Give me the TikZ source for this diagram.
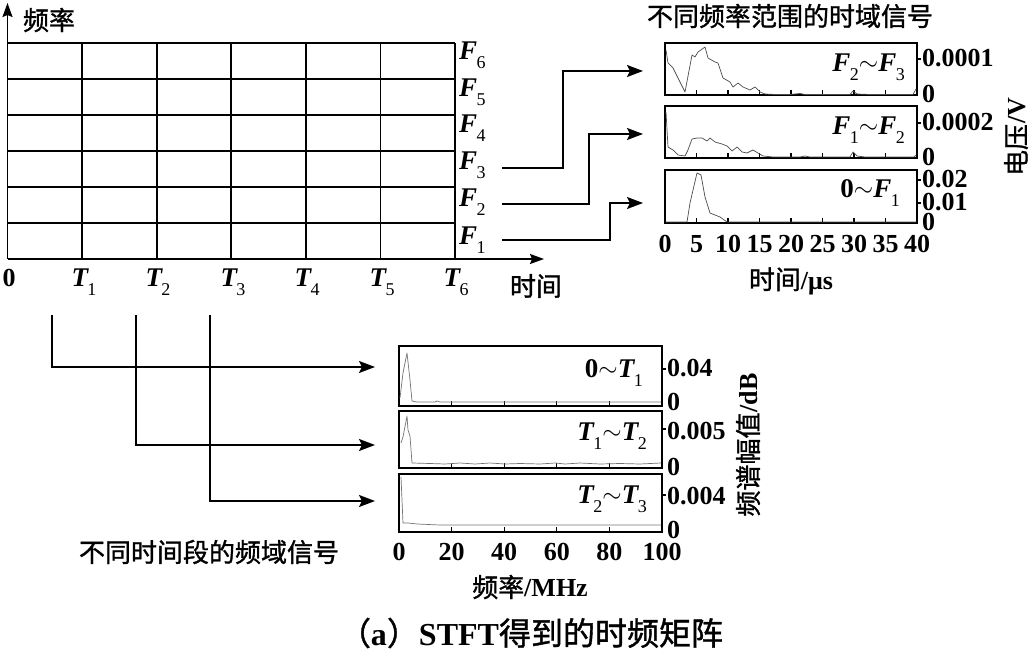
\documentclass[tikz,border=0pt]{standalone}
\usepackage{fontspec}
\setmainfont{Liberation Serif}
\newfontfamily\cjk{Noto Sans CJK SC}[FakeBold=1.2]
\usetikzlibrary{arrows.meta}
\newcommand\Lb[2]{{\bfseries\itshape #1}\kern-0.5pt\raisebox{-9pt}{\fontsize{18}{18}\selectfont #2}}
\newcommand\Sm{\raisebox{1pt}{$\sim$}}
\tikzset{
  gridln/.style={line width=1.7pt},
  boxln/.style={line width=1.7pt},
  tickln/.style={line width=1.2pt},
  conn/.style={line width=1.7pt,-{Stealth[length=16pt,width=12pt,inset=3pt]}},
  axisarrow/.style={line width=1.7pt,-{Stealth[length=14pt,width=10pt,inset=2pt]}},
  curveA/.style={line width=0.7pt,black!70,line join=round},
  curveB/.style={line width=0.7pt,black!55,line join=round},
  num/.style={font=\fontsize{26}{26}\selectfont\bfseries,inner sep=0pt},
  lab/.style={font=\fontsize{27}{27}\selectfont,inner sep=0pt},
  zh/.style={font=\fontsize{26}{26}\selectfont\cjk,inner sep=0pt},
  captext/.style={font=\fontsize{32}{32}\selectfont\cjk,inner sep=0pt},
}
\begin{document}
\begin{tikzpicture}[x=1pt,y=-1pt]
\useasboundingbox (0,0) rectangle (1033,652);

% ---------- time-frequency grid ----------
\foreach \i in {0,...,6}{
  \draw[gridln] ({7.5+74.58*\i},43) -- ({7.5+74.58*\i},259);
  \draw[gridln] (7.5,{43+36*\i}) -- (455,{43+36*\i});
}
\coordinate (orig) at (7.5,259);
\coordinate (ytip) at (7.5,3);
\coordinate (xtip) at (544,259);
\draw[axisarrow] (orig) -- (ytip);
\draw[axisarrow] (orig) -- (xtip);
\node[zh] (ylab) at (49,20) {频率};
\node[zh] (xlab) at (536,286) {时间};

% F labels
\node[lab,anchor=base west] (F6) at (459,60) {\Lb{F}{6}};
\node[lab,anchor=base west] (F5) at (459,97) {\Lb{F}{5}};
\node[lab,anchor=base west] (F4) at (459,133) {\Lb{F}{4}};
\node[lab,anchor=base west] (F3) at (459,170) {\Lb{F}{3}};
\node[lab,anchor=base west] (F2) at (459,207) {\Lb{F}{2}};
\node[lab,anchor=base west] (F1) at (459,245) {\Lb{F}{1}};
% T labels
\node[num,anchor=base] (T0) at (9,287) {0};
\node[lab,anchor=base] (T1) at (84,287) {\Lb{T}{1}};
\node[lab,anchor=base] (T2) at (158,287) {\Lb{T}{2}};
\node[lab,anchor=base] (T3) at (233,287) {\Lb{T}{3}};
\node[lab,anchor=base] (T4) at (307,287) {\Lb{T}{4}};
\node[lab,anchor=base] (T5) at (382,287) {\Lb{T}{5}};
\node[lab,anchor=base] (T6) at (456,287) {\Lb{T}{6}};

% ---------- connectors to time-domain plots ----------
\coordinate (a3s) at (502,168); \coordinate (a3e) at (643,71);
\coordinate (a2s) at (502,204); \coordinate (a2e) at (643,134);
\coordinate (a1s) at (502,240); \coordinate (a1e) at (643,203);
\draw[conn] (a3s) -- (563,168) -- (563,71) -- (a3e);
\draw[conn] (a2s) -- (589,204) -- (589,134) -- (a2e);
\draw[conn] (a1s) -- (610,240) -- (610,203) -- (a1e);

% ---------- time-domain plots ----------
\node[zh] (ttl) at (790,16) {不同频率范围的时域信号};
\draw[boxln] (665,43) rectangle (917,95);
\draw[boxln] (665,106) rectangle (917,158);
\draw[boxln] (665,170) rectangle (917,223);
\foreach \k in {1,...,7}{
  \draw[tickln] ({665+31.5*\k},95) -- ({665+31.5*\k},90);
  \draw[tickln] ({665+31.5*\k},158) -- ({665+31.5*\k},153);
  \draw[tickln] ({665+31.5*\k},223) -- ({665+31.5*\k},218);
}
\draw[tickln] (917,59) -- (921,59);
\draw[tickln] (917,123) -- (921,123);
\draw[tickln] (917,180) -- (921,180);
\draw[tickln] (917,203) -- (921,203);

\draw[curveA] (666,50) -- (668,63) -- (673,68) -- (685,92) -- (692,55) -- (695,57) -- (698,52) -- (705,47) -- (708,58) -- (715,62) -- (718,63) -- (723,78) -- (730,82) -- (733,87) -- (738,83) -- (743,87) -- (750,90) -- (755,87) -- (760,92) -- (765,94) -- (775,94.5) -- (790,94.5) -- (800,93.5) -- (805,94.5) -- (850,94.5) -- (853,91) -- (857,94) -- (870,94.5) -- (913,94.5) -- (916,89);
\draw[curveA] (666,112) -- (668,147) -- (673,150) -- (678,155) -- (685,156) -- (688,150) -- (692,139) -- (697,138) -- (702,138) -- (707,141) -- (710,138) -- (715,142) -- (722,144) -- (727,146) -- (732,151) -- (737,147) -- (742,152) -- (747,153) -- (753,150) -- (758,153) -- (763,156) -- (773,157) -- (800,157) -- (805,156) -- (810,157) -- (850,157) -- (853,152) -- (857,156) -- (865,157) -- (914,157) -- (916,155);
\draw[curveA] (666,222) -- (687,222) -- (690,203) -- (697,173) -- (701,175) -- (705,197) -- (710,213) -- (715,215) -- (720,217) -- (727,222) -- (916,222);

\node[lab,anchor=east] (l1) at (905,67) {\Lb{F}{2}\Sm\Lb{F}{3}};
\node[lab,anchor=east] (l2) at (905,130) {\Lb{F}{1}\Sm\Lb{F}{2}};
\node[lab,anchor=east] (l3) at (900,193) {{\bfseries 0}\Sm\Lb{F}{1}};

\node[num,anchor=west] (v1a) at (922,58) {0.0001};
\node[num,anchor=west] (v1b) at (922,94) {0};
\node[num,anchor=west] (v2a) at (922,122) {0.0002};
\node[num,anchor=west] (v2b) at (922,157) {0};
\node[num,anchor=west] (v3a) at (922,179) {0.02};
\node[num,anchor=west] (v3b) at (922,202) {0.01};
\node[num,anchor=west] (v3c) at (922,222) {0};
\foreach \v [count=\k from 0] in {0,5,10,15,20,25,30,35,40}{
  \node[num] (tx\k) at ({665+31.5*\k},244) {\v};
}
\node[zh] (tunit) at (791,281) {时间{\rmfamily\bfseries/μs}};
\node[zh,rotate=90] (vunit) at (1016,137) {电压{\rmfamily\bfseries/V}};

% ---------- connectors to frequency-domain plots ----------
\coordinate (b1s) at (52,315); \coordinate (b1e) at (375,367);
\coordinate (b2s) at (136,315); \coordinate (b2e) at (375,445);
\coordinate (b3s) at (210,315); \coordinate (b3e) at (375,501);
\draw[conn] (b1s) -- (52,367) -- (b1e);
\draw[conn] (b2s) -- (136,445) -- (b2e);
\draw[conn] (b3s) -- (210,501) -- (b3e);

% ---------- frequency-domain plots ----------
\draw[boxln] (399,346) rectangle (662,406);
\draw[boxln] (399,411) rectangle (662,468);
\draw[boxln] (399,474) rectangle (662,532);
\foreach \k in {1,...,4}{
  \draw[tickln] ({399+52.6*\k},406) -- ({399+52.6*\k},401);
  \draw[tickln] ({399+52.6*\k},468) -- ({399+52.6*\k},463);
  \draw[tickln] ({399+52.6*\k},532) -- ({399+52.6*\k},527);
}
\draw[tickln] (662,369) -- (666,369);
\draw[tickln] (662,429) -- (666,429);
\draw[tickln] (662,495) -- (666,495);

\draw[curveB] (400,398) -- (403,373) -- (407,353) -- (410,380) -- (412,401) -- (417,402) -- (435,402) -- (437,401) -- (440,402) -- (661,402);
\draw[curveB] (401,443) -- (403,437) -- (407,416) -- (408,430) -- (410,436) -- (412,463) -- (430,463.5) -- (445,464) -- (460,463) -- (475,464) -- (490,463) -- (505,464) -- (520,463.5) -- (540,464) -- (555,463) -- (565,464) -- (580,463) -- (600,464) -- (620,463.5) -- (640,464) -- (661,463);
\draw[curveB] (401,477) -- (403,523) -- (408,523) -- (417,524) -- (440,525) -- (661,525);

\node[lab,anchor=east] (m1) at (643,373) {{\bfseries 0}\Sm\Lb{T}{1}};
\node[lab,anchor=east] (m2) at (647,436) {\Lb{T}{1}\Sm\Lb{T}{2}};
\node[lab,anchor=east] (m3) at (647,499) {\Lb{T}{2}\Sm\Lb{T}{3}};

\node[num,anchor=west] (w1a) at (667,368) {0.04};
\node[num,anchor=west] (w1b) at (667,402) {0};
\node[num,anchor=west] (w2a) at (667,431) {0.005};
\node[num,anchor=west] (w2b) at (667,467) {0};
\node[num,anchor=west] (w3a) at (667,496) {0.004};
\node[num,anchor=west] (w3b) at (667,530) {0};
\foreach \v [count=\k from 0] in {0,20,40,60,80,100}{
  \node[num] (fx\k) at ({399+52.6*\k},552) {\v};
}
\node[zh] (funit) at (530,587) {频率{\rmfamily\bfseries/MHz}};
\node[zh,rotate=90] (dunit) at (748,445) {频谱幅值{\rmfamily\bfseries/dB}};
\node[zh] (fdl) at (209,552) {不同时间段的频域信号};

% ---------- caption ----------
\node[captext] (caption) at (531,633) {（{\rmfamily\bfseries a}）{\rmfamily\bfseries STFT}得到的时频矩阵};
\end{tikzpicture}
\end{document}
